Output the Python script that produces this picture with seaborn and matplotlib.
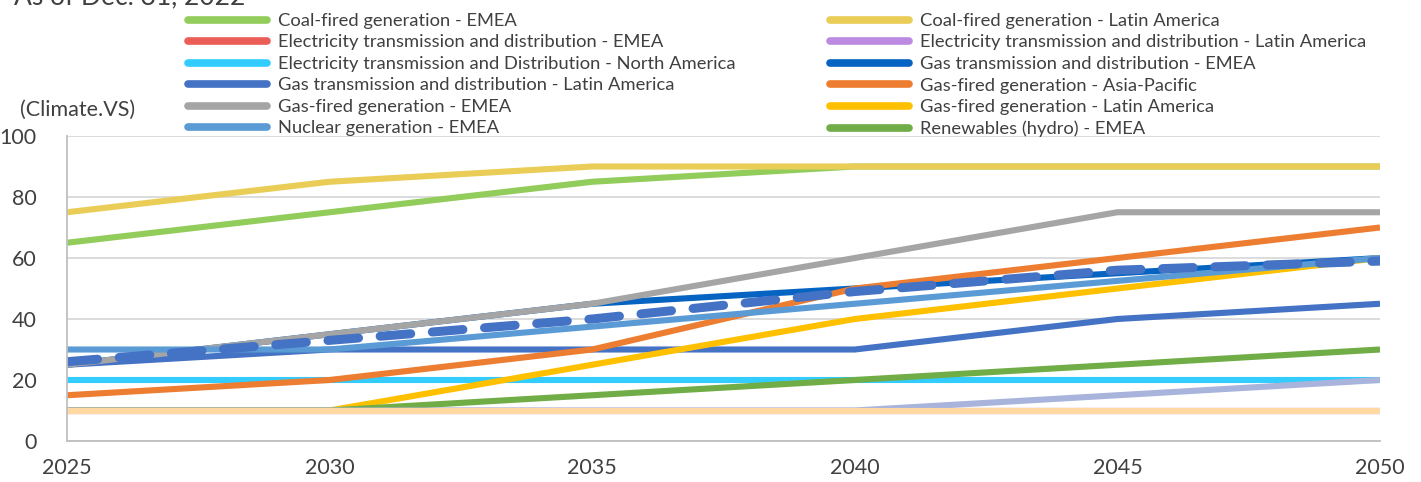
import matplotlib
matplotlib.use("Agg")
import matplotlib.pyplot as plt
from matplotlib.lines import Line2D
import seaborn as sns
import pandas as pd

years = [2025, 2030, 2035, 2040, 2045, 2050]

coal_emea = [65, 75, 85, 90, 90, 90]
coal_latam = [75, 85, 90, 90, 90, 90]
elec_emea = [10, 10, 10, 10, 10, 10]
elec_latam = [10, 10, 10, 10, 10, 10]
elec_na = [20, 20, 20, 20, 20, 20]
gas_td_emea = [25, 35, 45, 50, 55, 60]
gas_td_latam = [25, 30, 30, 30, 40, 45]
gas_apac = [15, 20, 30, 50, 60, 70]
gas_emea = [25, 35, 45, 60, 75, 75]
gas_latam = [10, 10, 25, 40, 50, 60]
nuclear_emea = [30, 30, 37.5, 45, 52.5, 60]
hydro_emea = [10, 10, 15, 20, 25, 30]
extra_lavender = [10, 10, 10, 10, 15, 20]
extra_peach = [10, 10, 10, 10, 10, 10]
average = [26, 33, 40, 49, 56, 59]

series_names = [
    "Coal-fired generation - EMEA",
    "Coal-fired generation - Latin America",
    "Electricity transmission and distribution - EMEA",
    "Electricity transmission and distribution - Latin America",
    "Electricity transmission and Distribution - North America",
    "Gas transmission and distribution - EMEA",
    "Gas transmission and distribution - Latin America",
    "Gas-fired generation - Asia-Pacific",
    "Gas-fired generation - EMEA",
    "Gas-fired generation - Latin America",
    "Nuclear generation - EMEA",
    "Renewables (hydro) - EMEA",
]
series_values = [coal_emea, coal_latam, elec_emea, elec_latam, elec_na,
                 gas_td_emea, gas_td_latam, gas_apac, gas_emea, gas_latam,
                 nuclear_emea, hydro_emea]
colors = ["#92CC5A", "#EACD56", "#EB5E57", "#BC8AE0", "#33CCFF",
          "#0563C1", "#4472C4", "#ED7D31", "#A5A5A5", "#FFC000",
          "#5B9BD5", "#70AD47"]

sns.set_style("white")
plt.rcParams["font.family"] = ["Lato", "DejaVu Sans"]
text_color = "#404040"

fig = plt.figure(figsize=(14.21, 4.82), dpi=100)
ax = fig.add_axes([67 / 1421, 1 - 441 / 482, (1380 - 67) / 1421, (441 - 136) / 482])

lw = 4.4
for name, vals, c in zip(series_names, series_values, colors):
    df = pd.DataFrame({"year": years, "value": vals})
    sns.lineplot(data=df, x="year", y="value", ax=ax, color=c, lw=lw,
                 legend=False, solid_capstyle="butt")

sns.lineplot(x=years, y=extra_lavender, ax=ax, color="#A9B4DC", lw=lw, legend=False,
             solid_capstyle="butt")
sns.lineplot(x=years, y=extra_peach, ax=ax, color="#FFD9A1", lw=lw, legend=False,
             solid_capstyle="butt")
sns.lineplot(x=years, y=average, ax=ax, color="#4472C4", lw=6.5, legend=False,
             dashes=False)
avg_line = ax.lines[-1]
avg_line.set_dashes([3.4, 2.4])
avg_line.set_dash_capstyle("round")

ax.set_xlim(2025, 2050)
ax.set_ylim(0, 100)
ax.set_xticks(years)
ax.set_yticks([0, 20, 40, 60, 80, 100])
ax.set_xlabel("")
ax.set_ylabel("")
ax.grid(axis="y", color="#D9D9D9", lw=1.3)
ax.grid(axis="x", visible=False)
ax.set_axisbelow(True)
for s in ["top", "right"]:
    ax.spines[s].set_visible(False)
for s in ["left", "bottom"]:
    ax.spines[s].set_color("#BFBFBF")
    ax.spines[s].set_linewidth(1.3)
ax.tick_params(axis="both", length=0, labelsize=15.5, colors=text_color)
ax.tick_params(axis="x", pad=12)
ax.tick_params(axis="y", pad=22)
for lab in ax.get_yticklabels():
    lab.set_horizontalalignment("right")

# Legend: reorder so reading row-wise matches alphabetical order
handles = [Line2D([0], [0], color=c, lw=5.5, solid_capstyle="round") for c in colors]
order = list(range(0, 12, 2)) + list(range(1, 12, 2))
leg = fig.legend([handles[i] for i in order], [series_names[i] for i in order],
                 ncol=2, loc="upper left", bbox_to_anchor=(188 / 1421, 1 - 13 / 482),
                 frameon=False, fontsize=13.2, handlelength=4.3, handletextpad=0.6,
                 columnspacing=5.15, labelspacing=0.3, borderaxespad=0, borderpad=0)
for t in leg.get_texts():
    t.set_color(text_color)

fig.text(14 / 1421, 1 - 4 / 482, "As of Dec. 31, 2022", fontsize=19,
         color=text_color, va="baseline", ha="left")
fig.text(20 / 1421, 1 - 110 / 482, "(Climate.VS)", fontsize=15.5,
         color=text_color, va="center", ha="left")

fig.savefig("out.png", dpi=100)
